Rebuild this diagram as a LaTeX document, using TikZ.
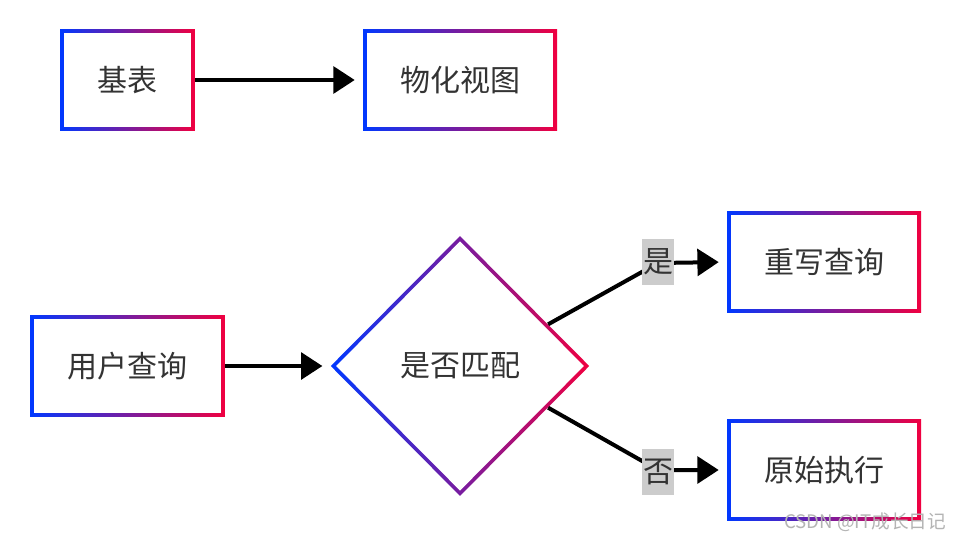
\documentclass[tikz,border=0pt]{standalone}
\usepackage{fontspec}
\newfontfamily\cjk{Noto Sans CJK SC}
\usetikzlibrary{arrows.meta,shapes.geometric,calc}
\definecolor{gB}{RGB}{0,56,255}
\definecolor{gR}{RGB}{240,0,64}
\definecolor{tc}{RGB}{51,51,51}
\definecolor{lbg}{RGB}{204,204,204}
\definecolor{wm}{RGB}{180,180,180}
\tikzset{
  txt/.style={font=\cjk\fontsize{22.5}{27}\selectfont, text=tc},
  gframe/.style={rectangle, inner sep=0pt, minimum height=76pt, txt,
    left color=gB, right color=gR,
    path picture={\fill[white] ([shift={(2.7pt,-2.7pt)}]path picture bounding box.north west)
      rectangle ([shift={(-2.7pt,2.7pt)}]path picture bounding box.south east);}},
  gdiamond/.style={diamond, inner sep=0pt, minimum width=194pt, minimum height=195pt, txt,
    left color=gB, right color=gR,
    path picture={\fill[white] ([yshift=-4pt]path picture bounding box.north)
      -- ([xshift=-4pt]path picture bounding box.east)
      -- ([yshift=4pt]path picture bounding box.south)
      -- ([xshift=4pt]path picture bounding box.west) -- cycle;}},
  conn/.style={line width=3pt, -{Triangle[length=16pt,width=20pt]}, shorten >=6pt},
  lab/.style={fill=lbg, inner sep=0pt, minimum width=23.5pt, minimum height=34pt, txt},
}
\begin{document}
\begin{tikzpicture}[x=0.75pt,y=-0.75pt]
\fill[white] (0,0) rectangle (954,540);
\useasboundingbox (0,0) rectangle (954,540);

\node[gframe, minimum width=101pt] (jb) at (127.5,80) {基表};
\node[gframe, minimum width=145.5pt] (wh) at (460,80) {物化视图};
\node[gframe, minimum width=146pt] (uq) at (127.5,366) {用户查询};
\node[gdiamond] (d) at (460,366) {是否匹配};
\node[gframe, minimum width=145.5pt] (rw) at (824,262) {重写查询};
\node[gframe, minimum width=145.5pt] (ex) at (824,470) {原始执行};

\coordinate (dy) at ($(d.north)!0.68!(d.east)$);
\coordinate (dn) at ($(d.south)!0.68!(d.east)$);
\coordinate (ly) at (658,263);
\coordinate (ln) at (658,470);

\draw[conn] (jb.east) -- (wh.west);
\draw[conn] (uq.east) -- (d.west);
\draw[conn] (dy) -- (ly) -- (rw.west);
\draw[conn] (dn) -- (ln) -- (ex.west);

\node[lab] (lyes) at (658,262) {是};
\node[lab] (lno) at (658,472) {否};

\node[anchor=east, font=\cjk\fontsize{14}{16}\selectfont, text=wm] (wmk) at (951,522) {CSDN @IT成长日记};
\end{tikzpicture}
\end{document}
